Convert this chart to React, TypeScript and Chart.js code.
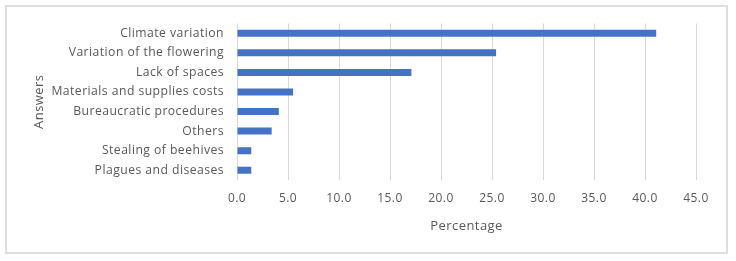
import React, { useEffect, useRef } from "react";
import { Chart, registerables } from "chart.js";

Chart.register(...registerables);

const categories = [
  "Climate variation",
  "Variation of the flowering",
  "Lack of spaces",
  "Materials and supplies costs",
  "Bureaucratic procedures",
  "Others",
  "Stealing of beehives",
  "Plagues and diseases",
];
const percentages = [41.1, 25.4, 17.1, 5.5, 4.1, 3.4, 1.4, 1.4];
const xTickMax = 45;
const xTickStep = 5;
const xTitle = "Percentage";
const yTitle = "Answers";

const FONT = "'Open Sans', Lato, sans-serif";
const TEXT = "#595959";

const spacingPlugin = {
  id: "letterSpacing",
  beforeDraw(chart: any) {
    (chart.ctx as any).letterSpacing = "0.45px";
  },
};

export default function App() {
  const ref = useRef<HTMLCanvasElement | null>(null);
  useEffect(() => {
    if (!ref.current) return;
    const chart = new Chart(ref.current, {
      type: "bar",
      data: {
        labels: categories,
        datasets: [
          {
            data: percentages,
            backgroundColor: "#4472C4",
            borderWidth: 0,
            categoryPercentage: 1,
            barPercentage: 0.36,
          },
        ],
      },
      plugins: [spacingPlugin],
      options: {
        indexAxis: "y",
        animation: false,
        responsive: false,
        maintainAspectRatio: false,
        layout: { padding: { top: 23.5, right: 40, bottom: 0, left: 0 } },
        plugins: { legend: { display: false }, tooltip: { enabled: false } },
        scales: {
          x: {
            min: 0,
            max: xTickMax,
            ticks: {
              stepSize: xTickStep,
              color: TEXT,
              padding: 11,
              font: { family: FONT, size: 12 },
              callback: (v: any) => Number(v).toFixed(1),
            },
            grid: { color: "#d9d9d9", drawTicks: false, lineWidth: 1 },
            border: { display: false },
            title: {
              display: true,
              text: xTitle,
              color: TEXT,
              font: { family: FONT, size: 13 },
              padding: { top: 0, bottom: 27 },
            },
            afterFit: (s: any) => {
              s.height = 81;
            },
          },
          y: {
            ticks: {
              color: TEXT,
              padding: 13,
              font: { family: FONT, size: 12.2 },
            },
            grid: { display: false, drawTicks: false },
            border: { display: false },
            title: {
              display: true,
              text: yTitle,
              color: TEXT,
              font: { family: FONT, size: 13 },
              padding: { top: 31, bottom: 0 },
            },
            afterFit: (s: any) => {
              s.width = 237;
            },
          },
        },
      },
    });
    return () => chart.destroy();
  }, []);
  return (
    <div style={{ position: "fixed", left: 0, top: 0, width: 736, height: 261, background: "#fff" }}>
      <div
        style={{
          position: "absolute",
          left: 5,
          top: 5,
          width: 723,
          height: 249,
          border: "2px solid #dedede",
          boxSizing: "border-box",
        }}
      />
      <canvas ref={ref} width={736} height={261} style={{ position: "absolute", left: 0, top: 0, width: 736, height: 261 }} />
    </div>
  );
}
